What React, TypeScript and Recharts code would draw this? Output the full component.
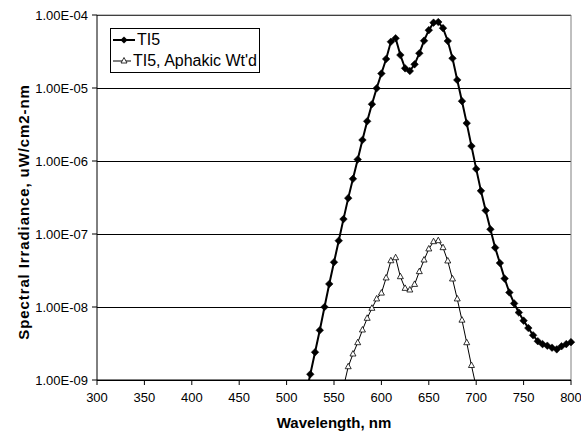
import {
  CartesianGrid,
  Label,
  Line,
  LineChart,
  ReferenceLine,
  XAxis,
  YAxis
} from "recharts";

const wavelengths = [
  520, 525, 530, 535, 540, 545, 550, 555, 560, 565, 570, 575, 580, 585, 590, 595,
  600, 605, 610, 615, 620, 625, 630, 635, 640, 645, 650, 655, 660, 665, 670, 675,
  680, 685, 690, 695, 700, 705, 710, 715, 720, 725, 730, 735, 740, 745, 750, 755,
  760, 765, 770, 775, 780, 785, 790, 795, 800
];

const ti5 = [
  6.0e-10, 1.2e-9, 2.4e-9, 4.8e-9, 1.0e-8, 2.07e-8, 4.1e-8, 8.1e-8, 1.6e-7, 3.1e-7,
  5.7e-7, 1.05e-6, 1.94e-6, 3.5e-6, 6.0e-6, 9.9e-6, 1.58e-5, 2.5e-5, 4.3e-5, 4.8e-5,
  2.83e-5, 1.86e-5, 1.71e-5, 2.11e-5, 2.99e-5, 4.45e-5, 6.2e-5, 7.85e-5, 8.0e-5, 6.6e-5,
  4.4e-5, 2.55e-5, 1.29e-5, 6.6e-6, 3.3e-6, 1.6e-6, 7.8e-7, 3.9e-7, 2.1e-7, 1.16e-7,
  6.5e-8, 4.0e-8, 2.45e-8, 1.58e-8, 1.12e-8, 8.4e-9, 6.5e-9, 5.15e-9, 4.1e-9, 3.4e-9,
  3.1e-9, 2.95e-9, 2.77e-9, 2.63e-9, 2.9e-9, 3.1e-9, 3.3e-9
];

const aphakic = [
  null, null, null, null, null, null, null, null, 8.0e-10, 1.52e-9,
  2.27e-9, 3.24e-9, 4.84e-9, 7.0e-9, 9.6e-9, 1.29e-8, 1.55e-8, 2.5e-8, 4.3e-8, 4.73e-8,
  2.6e-8, 1.8e-8, 1.71e-8, 2.04e-8, 3.05e-8, 4.4e-8, 6.24e-8, 7.85e-8, 8.1e-8, 6.5e-8,
  4.27e-8, 2.42e-8, 1.29e-8, 6.6e-9, 3.24e-9, 1.58e-9, 8.0e-10, null, null, null,
  null, null, null, null, null, null, null, null, null, null,
  null, null, null, null, null, null, null
];

const xTicks = [300, 350, 400, 450, 500, 550, 600, 650, 700, 750, 800];
const yTicks = [1e-9, 1e-8, 1e-7, 1e-6, 1e-5, 1e-4];

const data = wavelengths.map((w, i) => ({ w, ti5: ti5[i], aphakic: aphakic[i] }));

const FONT = "'Liberation Sans', Arial, sans-serif";

const sciFormat = (v: number) => {
  const e = Math.round(Math.log10(v));
  const m = v / Math.pow(10, e);
  const sign = e < 0 ? "-" : "+";
  return `${m.toFixed(2)}E${sign}${String(Math.abs(e)).padStart(2, "0")}`;
};

const Diamond = (props: any) => {
  const { cx, cy, index } = props;
  if (cx == null || cy == null || !Number.isFinite(cy)) return <g key={`d${index}`} />;
  const s = 3.8;
  return (
    <polygon
      key={`d${index}`}
      points={`${cx},${cy - s} ${cx + s},${cy} ${cx},${cy + s} ${cx - s},${cy}`}
      fill="#000"
      stroke="#000"
      strokeWidth={0.5}
    />
  );
};

const Triangle = (props: any) => {
  const { cx, cy, index } = props;
  if (cx == null || cy == null || !Number.isFinite(cy)) return <g key={`t${index}`} />;
  return (
    <polygon
      key={`t${index}`}
      points={`${cx},${cy - 3.5} ${cx + 3},${cy + 2} ${cx - 3},${cy + 2}`}
      fill="#fff"
      stroke="#000"
      strokeWidth={0.8}
    />
  );
};

const LegendBox = () => (
  <div
    style={{
      position: "absolute",
      left: 110,
      top: 28,
      width: 150,
      boxSizing: "border-box",
      border: "1px solid #000",
      background: "#fff",
      padding: "0px 2px 1px 2px",
      fontFamily: FONT,
      fontSize: 16,
      lineHeight: "21px",
      color: "#000",
      whiteSpace: "nowrap"
    }}
  >
    <div style={{ display: "flex", alignItems: "center" }}>
      <svg width={22} height={10} style={{ marginRight: 2 }}>
        <line x1={0} y1={5} x2={22} y2={5} stroke="#000" strokeWidth={2} />
        <polygon points="11,1.4 14.6,5 11,8.6 7.4,5" fill="#000" />
      </svg>
      <span>TI5</span>
    </div>
    <div style={{ display: "flex", alignItems: "center" }}>
      <svg width={22} height={10} style={{ marginRight: 2 }}>
        <line x1={0} y1={5} x2={22} y2={5} stroke="#000" strokeWidth={1} />
        <polygon points="11,1.5 14,7 8,7" fill="#fff" stroke="#000" strokeWidth={0.8} />
      </svg>
      <span>TI5, Aphakic Wt'd</span>
    </div>
  </div>
);

export default function App() {
  return (
    <div style={{ position: "absolute", left: 0, top: 0, width: 581, height: 432, background: "#fff" }}>
      <LineChart
        width={581}
        height={432}
        data={data}
        margin={{ top: 15, right: 10, left: 0, bottom: 0 }}
      >
        <CartesianGrid vertical={false} stroke="#000" strokeWidth={1} shapeRendering="crispEdges" />
        <XAxis
          dataKey="w"
          type="number"
          domain={[300, 800]}
          ticks={xTicks}
          interval={0}
          height={52}
          tickSize={5}
          tickMargin={8}
          stroke="#000"
          tick={{ fill: "#000", fontSize: 13, fontFamily: FONT }}
        >
          <Label
            value="Wavelength, nm"
            position="insideBottom"
            offset={4}
            style={{ fontFamily: FONT, fontSize: 15, fontWeight: "bold", fill: "#000" }}
          />
        </XAxis>
        <YAxis
          scale="log"
          domain={[1e-9, 1e-4]}
          ticks={yTicks}
          interval={0}
          allowDataOverflow
          width={97}
          tickSize={5}
          tickMargin={4}
          stroke="#000"
          tickFormatter={sciFormat}
          tick={{ fill: "#000", fontSize: 13, fontFamily: FONT }}
        >
          <Label
            content={() => (
              <text
                transform="translate(23,212) rotate(-90)"
                textAnchor="middle"
                dominantBaseline="central"
                style={{ fontFamily: FONT, fontSize: 15, fontWeight: "bold", fill: "#000", letterSpacing: 0.9 }}
              >
                Spectral Irradiance, uW/cm2-nm
              </text>
            )}
          />
        </YAxis>
        <ReferenceLine x={800} stroke="#808080" strokeWidth={1} />
        <ReferenceLine y={1e-4} stroke="#808080" strokeWidth={1} />
        <Line
          dataKey="ti5"
          name="TI5"
          stroke="#000"
          strokeWidth={2}
          dot={Diamond}
          activeDot={false}
          isAnimationActive={false}
        />
        <Line
          dataKey="aphakic"
          name="TI5, Aphakic Wt'd"
          stroke="#000"
          strokeWidth={1}
          dot={Triangle}
          activeDot={false}
          isAnimationActive={false}
        />
      </LineChart>
      <LegendBox />
    </div>
  );
}
